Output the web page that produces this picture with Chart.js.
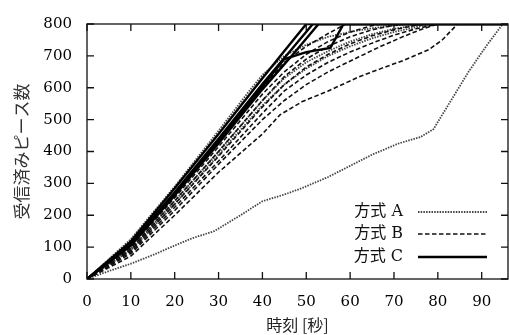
<!DOCTYPE html>
<html>
<head>
<meta charset="utf-8">
<script src="https://cdn.jsdelivr.net/npm/chart.js@4.4.1/dist/chart.umd.min.js"></script>
<style>
  body { margin: 0; background: #fff; }
  #wrap { width: 509px; height: 335px; }
</style>
</head>
<body>
<div id="wrap"><canvas id="myChart" width="509" height="335"></canvas></div>
<script>
// tick values
const xTicks = [0, 10, 20, 30, 40, 50, 60, 70, 80, 90];
const yTicks = [0, 100, 200, 300, 400, 500, 600, 700, 800];

// 方式 A (dotted)
const a1 = [[0,0],[5,25],[10,48],[15,75],[20,105],[24,128],[29,150],[35,200],[40,244],[45,265],[49,285],[55,320],[60,355],[65,390],[71,425],[76,445],[79,470],[83,560],[87,650],[91,730],[94.8,800],[96,800]];
const a2 = [[0,0],[10,125],[20,290],[30,465],[37,590],[40,640],[45,700],[50,735],[55,760],[60,775],[65,787],[70,795],[73,800],[96,800]];
const a3 = [[0,0],[10,95],[20,245],[30,400],[40,560],[45,630],[50,680],[55,715],[60,745],[65,768],[70,785],[75,796],[77,800],[96,800]];
const a4 = [[0,0],[10,90],[20,235],[30,390],[40,545],[45,610],[50,660],[55,700],[60,730],[65,755],[70,775],[75,790],[78,800],[96,800]];

// 方式 B (dashed)
const b1 = [[0,0],[10,105],[20,265],[30,430],[40,600],[45,680],[50,730],[55,770],[59,800],[96,800]];
const b2 = [[0,0],[10,100],[20,255],[30,415],[40,580],[45,650],[50,705],[55,745],[60,775],[65,795],[67,800],[96,800]];
const b3 = [[0,0],[10,95],[20,245],[30,400],[40,560],[45,635],[50,690],[55,730],[60,760],[65,782],[70,796],[72,800],[96,800]];
const b4 = [[0,0],[10,90],[20,235],[30,385],[40,540],[45,610],[50,665],[55,705],[60,738],[65,763],[70,782],[75,796],[77,800],[96,800]];
const b5 = [[0,0],[10,85],[20,225],[30,370],[40,520],[45,590],[50,640],[55,680],[60,712],[65,740],[70,765],[75,785],[80,800],[96,800]];
const b6 = [[0,0],[10,80],[20,215],[30,360],[40,500],[45,560],[50,610],[55,650],[62,697],[67,730],[72,760],[76,782],[80,800],[96,800]];
const b7 = [[0,0],[10,72],[20,200],[30,335],[40,455],[44,515],[49,556],[55,590],[62,634],[67,660],[72,685],[78,720],[81,750],[84.5,800],[96,800]];

// 方式 C (solid)
const c1 = [[0,0],[10,118],[20,285],[30,455],[40,630],[45,715],[50,800],[96,800]];
const c2 = [[0,0],[10,112],[20,272],[30,440],[40,612],[46,710],[51.5,800],[96,800]];
const c3 = [[0,0],[10,105],[20,262],[30,425],[40,595],[47,705],[52.8,800],[96,800]];
const c4 = [[0,0],[10,110],[20,268],[30,432],[40,605],[45,690],[50,712],[55.5,725],[58.5,800],[96,800]];

const legendNames = ['方式 A', '方式 B', '方式 C'];
const groups = [
  { lines: [a1, a2, a3, a4], color: '#444', width: 1.8, dash: [1.5, 1.2] },
  { lines: [b1, b2, b3, b4, b5, b6, b7], color: '#111', width: 1.6, dash: [4.5, 2.5] },
  { lines: [c1, c2, c3, c4], color: '#000', width: 2.4, dash: [] }
];

// C on top -> first in list
let datasets = [];
[2, 1, 0].forEach(g => {
  groups[g].lines.forEach(line => {
    datasets.push({
      label: legendNames[g],
      data: line.map(p => ({ x: p[0], y: p[1] })),
      showLine: true,
      borderColor: groups[g].color,
      borderWidth: groups[g].width,
      borderDash: groups[g].dash,
      pointRadius: 0,
      tension: 0
    });
  });
});

const tickFont = { family: '"DejaVu Serif", serif', size: 15 };

// frame, inner ticks and legend like gnuplot
const framePlugin = {
  id: 'frame',
  afterDatasetsDraw(chart) {
    const ctx = chart.ctx;
    const a = chart.chartArea;
    const xs = chart.scales.x, ys = chart.scales.y;
    ctx.save();
    ctx.strokeStyle = '#111';
    ctx.lineWidth = 1.3;
    ctx.setLineDash([]);
    ctx.strokeRect(a.left, a.top, a.right - a.left, a.bottom - a.top);
    const tl = 7;
    ctx.beginPath();
    xTicks.forEach(v => {
      const px = xs.getPixelForValue(v);
      ctx.moveTo(px, a.bottom); ctx.lineTo(px, a.bottom - tl);
      ctx.moveTo(px, a.top); ctx.lineTo(px, a.top + tl);
    });
    yTicks.forEach(v => {
      const py = ys.getPixelForValue(v);
      ctx.moveTo(a.left, py); ctx.lineTo(a.left + tl, py);
      ctx.moveTo(a.right, py); ctx.lineTo(a.right - tl, py);
    });
    ctx.stroke();

    // legend
    const rows = [212, 234, 257];
    ctx.font = '16px "DejaVu Serif", "Noto Sans CJK JP", serif';
    ctx.textAlign = 'right';
    ctx.textBaseline = 'middle';
    ctx.fillStyle = '#111';
    legendNames.forEach((name, i) => {
      ctx.fillText(name, 403, rows[i]);
      ctx.beginPath();
      ctx.strokeStyle = groups[i].color;
      ctx.lineWidth = groups[i].width;
      ctx.setLineDash(groups[i].dash);
      ctx.moveTo(418, rows[i]);
      ctx.lineTo(487, rows[i]);
      ctx.stroke();
    });
    ctx.restore();
  }
};

let myChart = new Chart(document.getElementById('myChart').getContext('2d'), {
  type: 'scatter',
  data: { datasets: datasets },
  options: {
    responsive: false,
    animation: false,
    layout: { padding: { top: 22, right: 1, bottom: 0, left: 0 } },
    plugins: { legend: { display: false }, tooltip: { enabled: false } },
    scales: {
      x: {
        type: 'linear',
        min: 0,
        max: 96,
        grid: { display: false, drawTicks: false, tickLength: 0 },
        border: { display: false },
        afterBuildTicks: s => { s.ticks = xTicks.map(v => ({ value: v })); },
        afterFit: s => { s.height = 56; },
        ticks: { font: tickFont, color: '#000', padding: 14, maxRotation: 0 },
        title: {
          display: true,
          text: '時刻 [秒]',
          font: { family: '"Noto Sans CJK JP"', size: 16 },
          color: '#222',
          padding: 0
        }
      },
      y: {
        min: 0,
        max: 800,
        grid: { display: false, drawTicks: false, tickLength: 0 },
        border: { display: false },
        afterBuildTicks: s => { s.ticks = yTicks.map(v => ({ value: v })); },
        afterFit: s => { s.width = 87; },
        ticks: { font: tickFont, color: '#000', padding: 15 },
        title: {
          display: true,
          text: '受信済みピース数',
          font: { family: '"Noto Sans CJK JP"', size: 17 },
          color: '#333',
          padding: { top: 11, bottom: 0 }
        }
      }
    }
  },
  plugins: [framePlugin]
});
</script>
</body>
</html>
